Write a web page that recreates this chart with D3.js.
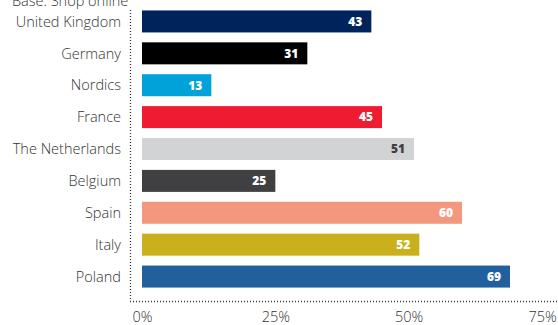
<!DOCTYPE html>
<html>
<head>
<meta charset="utf-8">
<script src="https://cdn.jsdelivr.net/npm/d3@7/dist/d3.min.js"></script>
<style>
  html, body { margin: 0; padding: 0; background: #fff; }
  svg { display: block; }
  .cat { font-family: "Open Sans", sans-serif; font-size: 14.5px; font-weight: 300; fill: #333; }
  .val { font-family: "Open Sans", sans-serif; font-size: 12px; font-weight: 800; }
  .tick text { font-family: "Open Sans", sans-serif; font-size: 14.5px; font-weight: 300; fill: #333; }
</style>
</head>
<body>
<svg id="chart" width="558" height="325"></svg>
<script>
// Share of shoppers per country (%)
const countries = ["United Kingdom", "Germany", "Nordics", "France", "The Netherlands",
                   "Belgium", "Spain", "Italy", "Poland"];
const values = [43, 31, 13, 45, 51, 25, 60, 52, 69];
const colors = ["#00235c", "#000000", "#00a3d9", "#ee1c31", "#d2d3d5",
                "#404042", "#f4977f", "#c9b01c", "#225f9d"];
const labelColors = ["#fff", "#fff", "#fff", "#fff", "#404042",
                     "#fff", "#fff", "#fff", "#fff"];
const xTicks = [0, 25, 50, 75];

const svg = d3.select("#chart");

const x = d3.scaleLinear().domain([0, 75]).range([142, 542]);
const y = d3.scaleBand().domain(countries).range([5.5, 292.5]).paddingInner(0.31).paddingOuter(0.155);

// Subtitle (partly above the top edge)
svg.append("text")
  .attr("class", "cat")
  .attr("x", 12).attr("y", 6)
  .text("Base: Shop online");

// Dotted axis lines
svg.append("line")
  .attr("x1", 130.5).attr("x2", 130.5).attr("y1", 10).attr("y2", 301)
  .attr("stroke", "#333").attr("stroke-width", 1.3).attr("stroke-dasharray", "1,2");
svg.append("line")
  .attr("x1", 130).attr("x2", 558).attr("y1", 301.5).attr("y2", 301.5)
  .attr("stroke", "#333").attr("stroke-width", 1.3).attr("stroke-dasharray", "1,2");

// Bars
svg.selectAll("rect.bar")
  .data(countries)
  .join("rect")
  .attr("class", "bar")
  .attr("x", x(0))
  .attr("y", d => y(d))
  .attr("width", (d, i) => x(values[i]) - x(0))
  .attr("height", y.bandwidth())
  .attr("fill", (d, i) => colors[i]);

// Value labels inside bar ends
svg.selectAll("text.val")
  .data(countries)
  .join("text")
  .attr("class", "val")
  .attr("x", (d, i) => x(values[i]) - 9)
  .attr("y", d => y(d) + y.bandwidth() / 2)
  .attr("dy", "0.36em")
  .attr("text-anchor", "end")
  .attr("fill", (d, i) => labelColors[i])
  .text((d, i) => values[i]);

// Category labels
svg.selectAll("text.cat-label")
  .data(countries)
  .join("text")
  .attr("class", "cat cat-label")
  .attr("x", 121)
  .attr("y", d => y(d) + y.bandwidth() / 2)
  .attr("dy", "0.36em")
  .attr("text-anchor", "end")
  .text(d => d);

// Percentage axis
const xAxis = d3.axisBottom(x)
  .tickValues(xTicks)
  .tickFormat(d => d + "%")
  .tickSize(0)
  .tickPadding(0);
const gx = svg.append("g")
  .attr("transform", "translate(0,312)")
  .call(xAxis);
gx.select(".domain").remove();
gx.selectAll(".tick text").attr("dy", "0.71em");
</script>
</body>
</html>
